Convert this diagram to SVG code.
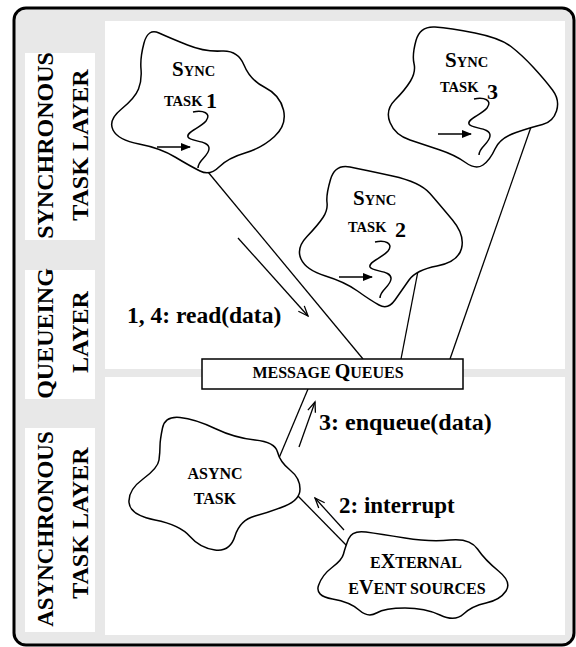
<svg xmlns="http://www.w3.org/2000/svg" xmlns:xlink="http://www.w3.org/1999/xlink" width="576" height="647" viewBox="0 0 576 647">
<style>
.frame{fill:#e8e8e8;stroke:#000;stroke-width:3}
.panel{fill:#fff;stroke:none}
.cloud{fill:#fff;stroke:#000;stroke-width:1.5}
.ln{fill:none;stroke:#000;stroke-width:1.3}
.box{fill:#fff;stroke:#000;stroke-width:1.5}
text{font-family:"Liberation Serif","Times New Roman",serif;font-weight:bold;fill:#000}
.side{font-size:24px;text-anchor:middle}
.lbl{font-size:23.5px}
.sm{font-size:14.5px}
.big{font-size:21px}
.num{font-size:22px}
.sm2{font-size:16px}
.big2{font-size:20px}
</style>
<defs>
<marker id="open" markerWidth="13" markerHeight="10" refX="11" refY="5" orient="auto" markerUnits="userSpaceOnUse">
<path d="M1,1 L11,5 L1,9" fill="none" stroke="#000" stroke-width="1.3"/>
</marker>
<marker id="solid" markerWidth="10" markerHeight="8" refX="9" refY="4" orient="auto" markerUnits="userSpaceOnUse">
<path d="M0,0 L10,4 L0,8 Z" fill="#000"/>
</marker>
<g id="thread">
<path class="ln" style="stroke-width:1.5" d="M0,0 C10,-2 19,1 13,9 C7,16 -7,20 -5,25 C-3,30 17,28 16,37 C15,45 5,48 5,56"/>
<line class="ln" style="stroke-width:1.6" x1="-36" y1="35" x2="-3" y2="35" marker-end="url(#solid)"/>
</g>
</defs>

<g id="background">
<rect class="frame" x="14" y="8" width="560" height="637" rx="12"/>
<rect class="panel" x="105" y="21" width="460" height="348"/>
<rect class="panel" x="105" y="377" width="460" height="258"/>
<rect class="panel" x="25" y="53" width="70" height="187"/>
<rect class="panel" x="25" y="270" width="70" height="129"/>
<rect class="panel" x="25" y="428" width="70" height="204"/>
</g>

<g id="layer-labels">
<text class="side" transform="translate(53,145.5) rotate(-90)">SYNCHRONOUS</text>
<text class="side" transform="translate(88,145) rotate(-90)">TASK LAYER</text>
<text class="side" transform="translate(53,333.5) rotate(-90)">QUEUEING</text>
<text class="side" transform="translate(88,332) rotate(-90)">LAYER</text>
<text class="side" style="font-size:23px" transform="translate(53,529) rotate(-90)">ASYNCHRONOUS</text>
<text class="side" transform="translate(88,523) rotate(-90)">TASK LAYER</text>
</g>

<g id="connectors">
<line class="ln" x1="208" y1="172" x2="363" y2="359"/>
<line class="ln" x1="418" y1="271" x2="401" y2="359"/>
<line class="ln" x1="531" y1="127" x2="450" y2="359"/>
<line class="ln" x1="279" y1="458" x2="308" y2="389"/>
<line class="ln" x1="298" y1="496" x2="348" y2="547"/>
<line class="ln" x1="238" y1="238" x2="308" y2="316" marker-end="url(#open)"/>
<line class="ln" x1="299" y1="447" x2="315" y2="402" marker-end="url(#open)"/>
<line class="ln" x1="344" y1="530" x2="315" y2="498" marker-end="url(#open)"/>
<text class="lbl" x="127" y="323">1, 4: read(data)</text>
<text class="lbl" x="319" y="430" style="font-size:24px">3: enqueue(data)</text>
<text class="lbl" x="339" y="513" style="font-size:23px">2: interrupt</text>
</g>

<g id="sync-task-1">
<path class="cloud" d="M144,43 Q148,28 159,33 Q170,38 187.5,45 Q205,52 221.5,51 Q238,50 244,65 Q250,80 265,87.5 Q280,95 283.5,110 Q287,125 274.5,136.5 Q262,148 245,153 Q228,158 219,167 Q210,176 200,171 Q190,166 175,157 Q160,148 139,144 Q118,140 113,130 Q108,120 121.5,109 Q135,98 138.5,89 Q142,80 141,69 Q140,58 144,43 Z"/>
<text x="172" y="76"><tspan class="big">S</tspan><tspan class="sm">YNC</tspan></text>
<text class="sm" x="164" y="106">TASK</text>
<text class="num" x="206" y="108">1</text>
<use xlink:href="#thread" x="193" y="112"/>
</g>

<g id="sync-task-2">
<path class="cloud" d="M330.5,179.5 Q335,164 350,167 Q365,170 392.5,176 Q420,182 430,193.5 Q440,205 452.5,220 Q465,235 461.5,248.5 Q458,262 437,266 Q416,270 409,280 Q402,290 395,300 Q388,310 379,305 Q370,300 357.5,291 Q345,282 325.5,276 Q306,270 301,259 Q296,248 307,236.5 Q318,225 323,217.5 Q328,210 327,202.5 Q326,195 330.5,179.5 Z"/>
<text x="353" y="205"><tspan class="big">S</tspan><tspan class="sm">YNC</tspan></text>
<text class="sm" x="348" y="232">TASK</text>
<text class="num" x="395" y="237">2</text>
<use xlink:href="#thread" x="375" y="242"/>
</g>

<g id="sync-task-3">
<path class="cloud" d="M416,40.5 Q420,26 435,27 Q450,28 475,33 Q500,38 511,46.5 Q522,55 533.5,67.5 Q545,80 552.5,90 Q560,100 556.5,111 Q553,122 542.5,124.5 Q532,127 516,132.5 Q500,138 495,149 Q490,160 483,165 Q476,170 465.5,162.5 Q455,155 440,150 Q425,145 410,140 Q395,135 390,122.5 Q385,110 395,100 Q405,90 410.5,81 Q416,72 414,63.5 Q412,55 416,40.5 Z"/>
<text x="445" y="67"><tspan class="big">S</tspan><tspan class="sm">YNC</tspan></text>
<text class="sm" x="440" y="92">TASK</text>
<text class="num" x="487" y="99">3</text>
<use xlink:href="#thread" x="474" y="99"/>
</g>

<g id="message-queues">
<rect class="box" x="202" y="359" width="261" height="30"/>
<text x="328" y="378" text-anchor="middle"><tspan class="sm2">MESSAGE </tspan><tspan class="big2">Q</tspan><tspan class="sm2">UEUES</tspan></text>
</g>

<g id="async-task">
<path class="cloud" d="M162.5,428 Q165,416 180,417.5 Q195,419 215,428.5 Q235,438 255,440 Q275,442 277.5,452 Q280,462 290,470 Q300,478 300,489 Q300,500 285,506 Q270,512 255,516 Q240,520 235,536 Q230,552 215,550 Q200,548 190,536.5 Q180,525 155,520 Q130,515 129,502.5 Q128,490 143,479 Q158,468 159,460 Q160,452 160,446 Q160,440 162.5,428 Z"/>
<text class="sm2" x="215" y="479" text-anchor="middle">ASYNC</text>
<text class="sm2" x="215" y="504" text-anchor="middle">TASK</text>
</g>

<g id="external-event-sources">
<path class="cloud" d="M348.5,539 Q352,530 366,532 Q380,534 405,538 Q430,542 450,540 Q470,538 477.5,549 Q485,560 498.5,571 Q512,582 506,591 Q500,600 486,603 Q472,606 463.5,614 Q455,622 440,615 Q425,608 405,608 Q385,608 376.5,613 Q368,618 359,610 Q350,602 332.5,599 Q315,596 318.5,585.5 Q322,575 332,567.5 Q342,560 343.5,554 Q345,548 348.5,539 Z"/>
<text x="416" y="568" text-anchor="middle"><tspan class="sm2">E</tspan><tspan class="big2">X</tspan><tspan class="sm2">TERNAL</tspan></text>
<text x="417" y="594" text-anchor="middle"><tspan class="sm2">E</tspan><tspan class="big2">V</tspan><tspan class="sm2">ENT SOURCES</tspan></text>
</g>
</svg>
